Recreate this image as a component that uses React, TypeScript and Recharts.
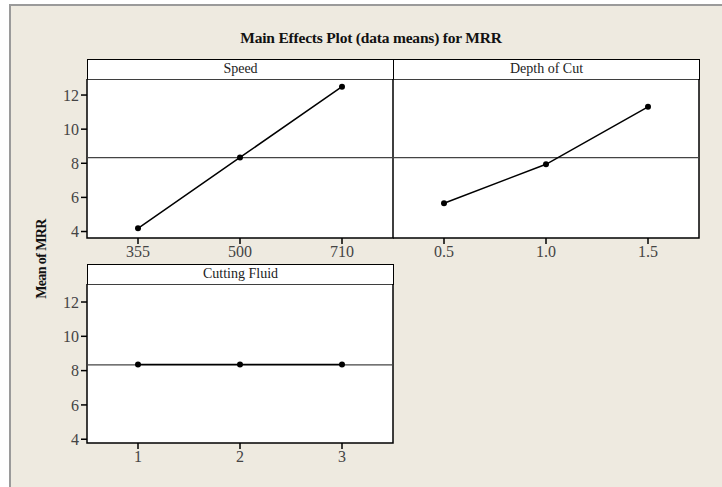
import { LineChart, Line, XAxis, YAxis, CartesianGrid, ReferenceLine, ReferenceArea } from "recharts"

const speedLevels = ["355", "500", "710"]
const speedMeans = [4.19, 8.34, 12.49]

const depthLevels = ["0.5", "1.0", "1.5"]
const depthMeans = [5.66, 7.94, 11.31]

const fluidLevels = ["1", "2", "3"]
const fluidMeans = [8.36, 8.36, 8.36]

const grandMean = 8.33
const yTicks = [4, 6, 8, 10, 12]

const font = "'Liberation Serif', 'Times New Roman', serif"

type PanelProps = {
  title: string
  levels: string[]
  means: number[]
  left: number
  top: number
  showY: boolean
  yDomain: [number, number]
}

const PLOT_W = 306
const PLOT_H = 159
const HEAD_H = 20

function Panel({ title, levels, means, left, top, showY, yDomain }: PanelProps) {
  const data = levels.map((l, i) => ({ i, level: l, mean: means[i] }))
  const yw = showY ? 50 : 0
  return (
    <>
      <div
        style={{
          position: "absolute",
          left,
          top,
          width: PLOT_W + 1,
          height: HEAD_H + 1,
          boxSizing: "border-box",
          border: "1.5px solid #000",
          background: "#fff",
          fontFamily: font,
          fontSize: 14,
          color: "#222",
          textAlign: "center",
          lineHeight: "18px",
        }}
      >
        {title}
      </div>
      <div style={{ position: "absolute", left: left - yw, top: top + HEAD_H }}>
        <LineChart
          width={PLOT_W + yw + 2}
          height={PLOT_H + 32}
          data={data}
          margin={{ top: 0, right: 2, left: 0, bottom: 0 }}
        >
          <CartesianGrid fill="#fff" horizontal={false} vertical={false} />
          <XAxis
            dataKey="i"
            type="number"
            domain={[-0.5, 2.5]}
            ticks={[0, 1, 2]}
            tickFormatter={(v: number) => levels[v]}
            axisLine={false}
            tickLine={{ stroke: "#000", strokeWidth: 1.5 }}
            tickSize={6}
            height={32}
            tick={{ fontSize: 16, fill: "#444", fontFamily: font }}
          />
          <YAxis
            hide={!showY}
            type="number"
            domain={yDomain}
            ticks={yTicks}
            allowDataOverflow
            axisLine={false}
            tickLine={{ stroke: "#000", strokeWidth: 1.5 }}
            tickSize={6}
            width={yw}
            tick={{ fontSize: 16, fill: "#444", fontFamily: font }}
          />
          <ReferenceLine y={grandMean} stroke="#444" strokeWidth={1.2} />
          <ReferenceArea
            x1={-0.5}
            x2={2.5}
            y1={yDomain[0]}
            y2={yDomain[1]}
            fill="none"
            stroke="#000"
            strokeWidth={1.5}
            strokeOpacity={1}
          />
          <Line
            dataKey="mean"
            stroke="#000"
            strokeWidth={1.5}
            dot={{ r: 3, fill: "#000", stroke: "#000", strokeWidth: 0 }}
            isAnimationActive={false}
          />
        </LineChart>
      </div>
    </>
  )
}

export default function App() {
  return (
    <div
      style={{
        position: "relative",
        width: 722,
        height: 487,
        background: "#fff",
        overflow: "hidden",
      }}
    >
      <style>{"body{margin:0}"}</style>
      <div
        style={{
          position: "absolute",
          left: 9,
          top: 4,
          width: 713,
          height: 483,
          boxSizing: "border-box",
          background: "#EEEAE0",
          borderLeft: "2px solid #9a9a9a",
          borderTop: "2px solid #9a9a9a",
        }}
      />
      <div
        style={{
          position: "absolute",
          left: 0,
          width: 742,
          top: 29,
          textAlign: "center",
          fontFamily: font,
          fontWeight: "bold",
          fontSize: 15.5,
          letterSpacing: -0.2,
          color: "#111",
        }}
      >
        Main Effects Plot (data means) for MRR
      </div>
      <div
        style={{
          position: "absolute",
          left: 42,
          top: 259,
          transform: "translate(-50%, -50%) rotate(-90deg)",
          whiteSpace: "nowrap",
          fontFamily: font,
          fontWeight: "bold",
          fontSize: 14,
          letterSpacing: -0.6,
          color: "#111",
        }}
      >
        Mean of MRR
      </div>
      <Panel title="Speed" levels={speedLevels} means={speedMeans} left={87} top={59} showY yDomain={[3.62, 12.94]} />
      <Panel title="Depth of Cut" levels={depthLevels} means={depthMeans} left={393} top={59} showY={false} yDomain={[3.62, 12.94]} />
      <Panel title="Cutting Fluid" levels={fluidLevels} means={fluidMeans} left={87} top={264} showY yDomain={[3.78, 13.05]} />
    </div>
  )
}
